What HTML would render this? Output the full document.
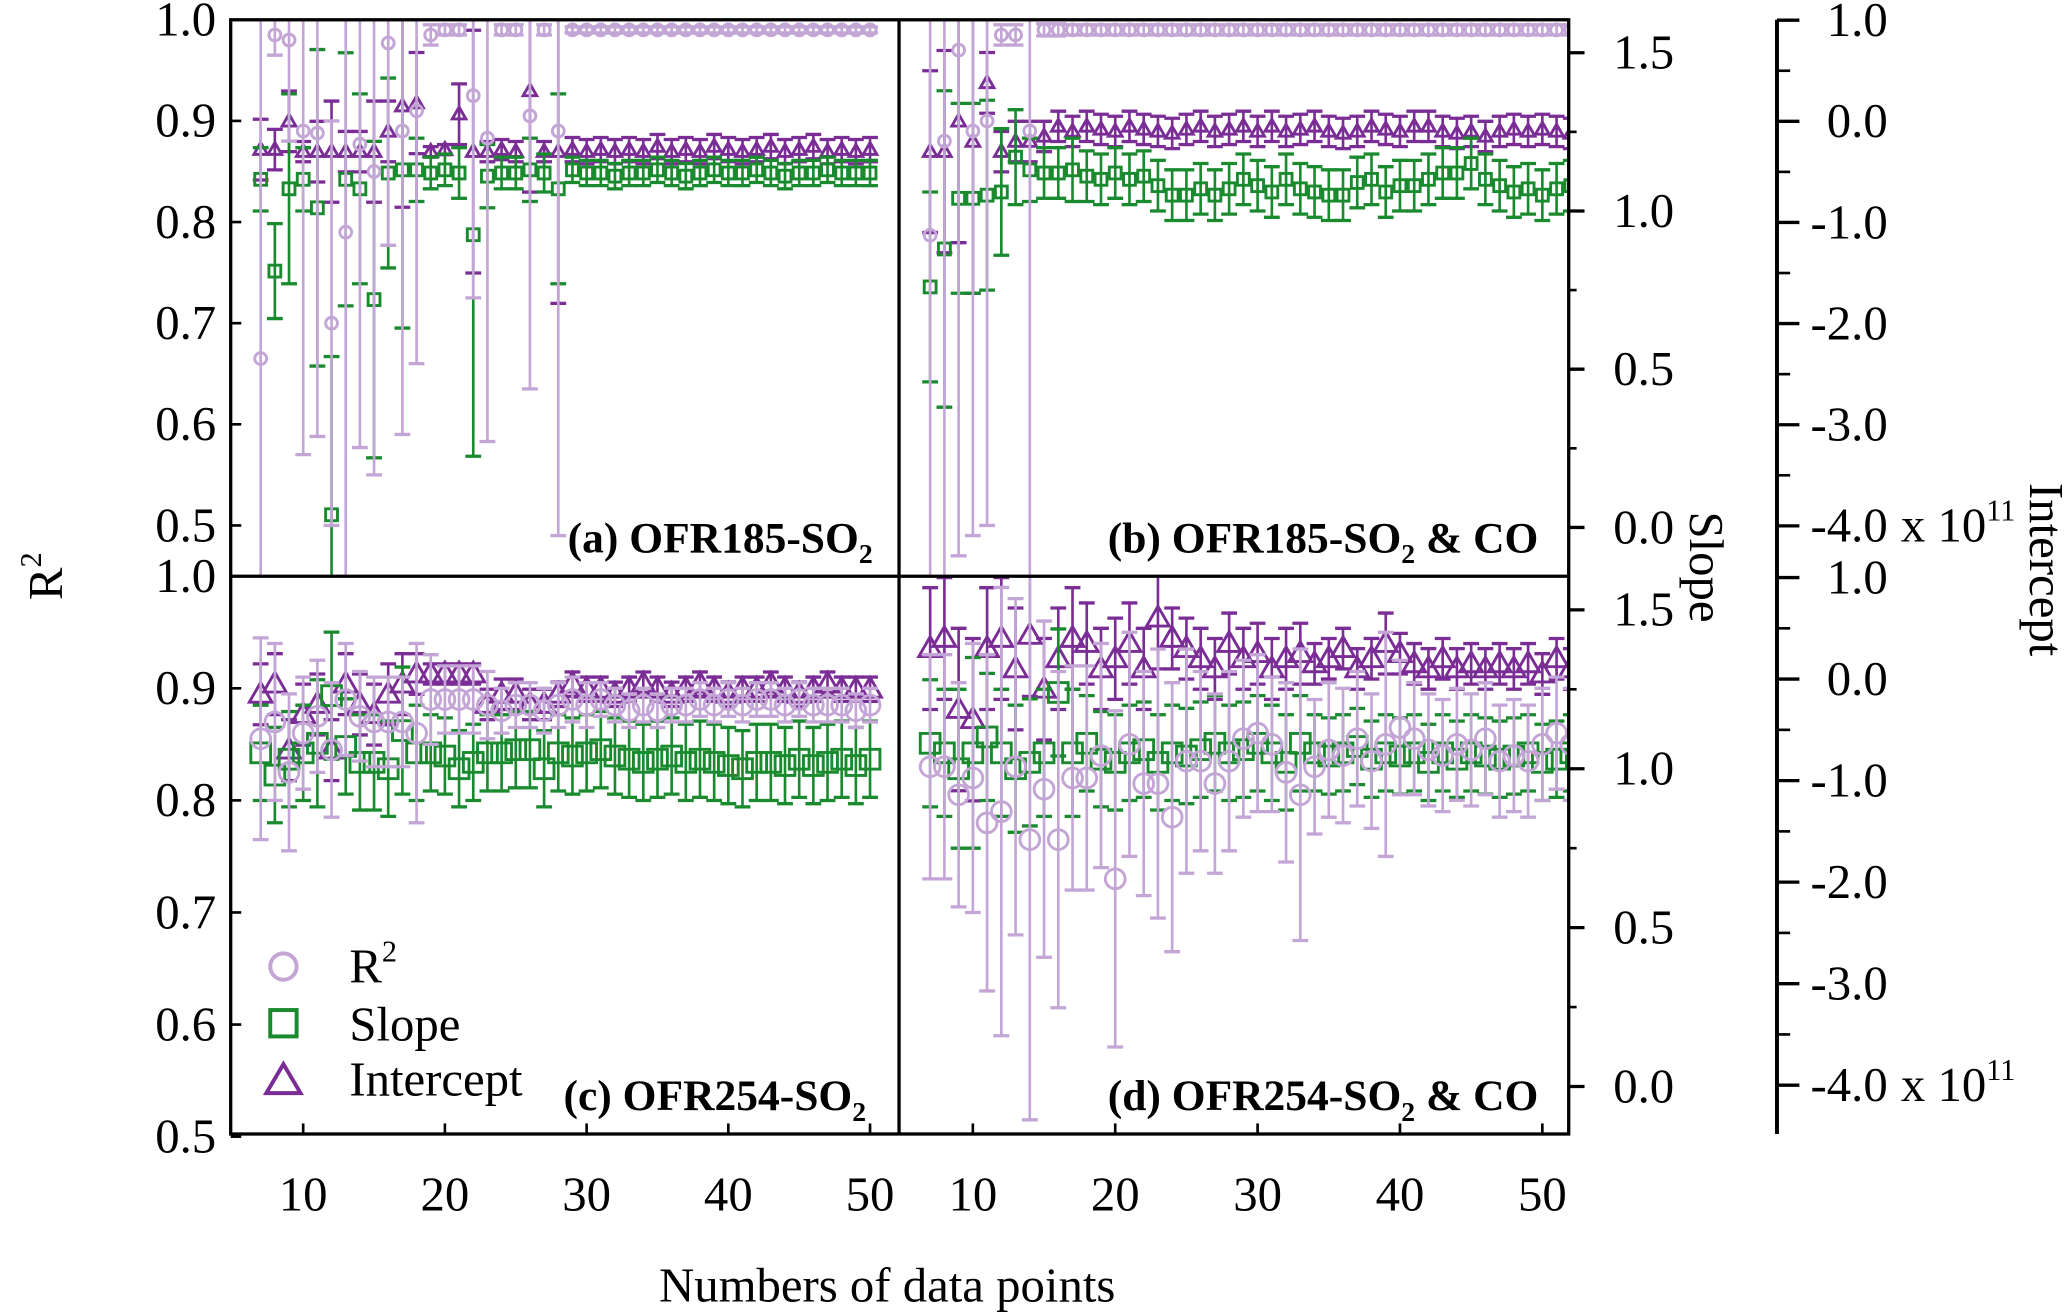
<!DOCTYPE html>
<html><head><meta charset="utf-8"><style>
html,body{margin:0;padding:0;background:#fff}
svg{display:block}
text{font-family:"Liberation Serif",serif;fill:#000}
</style></head><body>
<svg id="chart" width="2067" height="1312" viewBox="0 0 1568 995" preserveAspectRatio="none" xmlns="http://www.w3.org/2000/svg">
<defs>
<clipPath id="cA"><rect x="175" y="15" width="507" height="422"/></clipPath>
<clipPath id="cB"><rect x="682" y="15" width="508" height="422"/></clipPath>
<clipPath id="cC"><rect x="175" y="437" width="507" height="423"/></clipPath>
<clipPath id="cD"><rect x="682" y="437" width="508" height="423"/></clipPath>
</defs>
<g id="marks"></g>
<g id="axes"></g>
<text transform="translate(47,437) rotate(-90)" font-size="37" text-anchor="middle">R<tspan font-size="23" dy="-16">2</tspan></text>
<text transform="translate(1282,430) rotate(90)" font-size="37" text-anchor="middle">Slope</text>
<text transform="translate(1540,432) rotate(90)" font-size="37" text-anchor="middle">Intercept</text>
<text x="673" y="987" font-size="37" text-anchor="middle">Numbers of data points</text>
<g>
<circle cx="215" cy="733" r="10" fill="none" stroke="#c3a5d6" stroke-width="3"/>
<text x="265" y="745" font-size="37">R<tspan font-size="23" dy="-16">2</tspan></text>
<rect x="205" y="766" width="20" height="20" fill="none" stroke="#1a8a2e" stroke-width="3"/>
<text x="265" y="789" font-size="37">Slope</text>
<polygon points="215,807 228,829 202,829" fill="none" stroke="#7b2d96" stroke-width="3"/>
<text x="265" y="831" font-size="37">Intercept</text>
</g>
<text x="662" y="419" font-size="33" font-weight="bold" text-anchor="end">(a) OFR185-SO<tspan font-size="21" dy="8">2</tspan></text>
<text x="1167" y="419" font-size="33" font-weight="bold" text-anchor="end">(b) OFR185-SO<tspan font-size="21" dy="8">2</tspan><tspan dy="-8"> &amp; CO</tspan></text>
<text x="657" y="842" font-size="33" font-weight="bold" text-anchor="end">(c) OFR254-SO<tspan font-size="21" dy="8">2</tspan></text>
<text x="1167" y="842" font-size="33" font-weight="bold" text-anchor="end">(d) OFR254-SO<tspan font-size="21" dy="8">2</tspan><tspan dy="-8"> &amp; CO</tspan></text>
</svg>
<script>
const xA=[7,8,9,10,11,12,13,14,15,16,17,18,19,20,21,22,23,24,25,26,27,28,29,30,31,32,33,34,35,36,37,38,39,40,41,42,43,44,45,46,47,48,49,50];
const xB=[7,8,9,10,11,12,13,14,15,16,17,18,19,20,21,22,23,24,25,26,27,28,29,30,31,32,33,34,35,36,37,38,39,40,41,42,43,44,45,46,47,48,49,50,51,52];
const r2A=[0.665,0.985,0.98,0.89,0.888,0.70,0.79,0.877,0.85,0.977,0.89,0.91,0.985,0.99,0.99,0.925,0.883,0.99,0.99,0.905,0.99,0.89,0.99,0.99,0.99,0.99,0.99,0.99,0.99,0.99,0.99,0.99,0.99,0.99,0.99,0.99,0.99,0.99,0.99,0.99,0.99,0.99,0.99,0.99];
const r2ErrA=[0.6,0.02,0.1,0.32,0.3,0.2,0.4,0.3,0.3,0.2,0.3,0.25,0.01,0.005,0.005,0.2,0.3,0.005,0.005,0.27,0.005,0.4,0.003,0.003,0.003,0.003,0.003,0.003,0.003,0.003,0.003,0.003,0.003,0.003,0.003,0.003,0.003,0.003,0.003,0.003,0.003,0.003,0.003,0.003];
const slopeA=[1.10,0.81,1.07,1.10,1.01,0.04,1.10,1.07,0.72,1.12,1.13,1.13,1.12,1.13,1.12,0.925,1.11,1.12,1.12,1.13,1.12,1.07,1.13,1.12,1.12,1.11,1.12,1.12,1.13,1.12,1.11,1.12,1.13,1.12,1.12,1.13,1.12,1.11,1.12,1.12,1.13,1.12,1.12,1.12];
const slopeErrA=[0.1,0.15,0.3,0.1,0.5,0.5,0.4,0.3,0.5,0.3,0.5,0.1,0.05,0.05,0.08,0.7,0.1,0.05,0.05,0.1,0.06,0.3,0.04,0.04,0.04,0.04,0.04,0.04,0.04,0.04,0.04,0.04,0.04,0.04,0.04,0.04,0.04,0.04,0.04,0.04,0.04,0.04,0.04,0.04];
const intA=[-0.28,-0.28,0.0,-0.3,-0.3,-0.3,-0.3,-0.3,-0.3,-0.1,0.15,0.18,-0.3,-0.28,0.07,-0.3,-0.3,-0.28,-0.3,0.3,-0.3,-0.3,-0.28,-0.3,-0.28,-0.3,-0.28,-0.3,-0.25,-0.3,-0.28,-0.3,-0.25,-0.28,-0.3,-0.28,-0.25,-0.3,-0.28,-0.25,-0.3,-0.28,-0.3,-0.28];
const intErrA=[0.3,0.2,0.3,0.1,0.3,0.5,0.2,0.2,0.5,0.3,1,0.5,0.05,0.05,0.3,1.2,0.1,0.1,0.1,1,0.1,1.5,0.12,0.12,0.12,0.12,0.12,0.12,0.12,0.12,0.12,0.12,0.12,0.12,0.12,0.12,0.12,0.12,0.12,0.12,0.12,0.12,0.12,0.12];
const r2B=[0.787,0.88,0.97,0.89,0.90,0.985,0.985,0.89,0.99,0.99,0.99,0.99,0.99,0.99,0.99,0.99,0.99,0.99,0.99,0.99,0.99,0.99,0.99,0.99,0.99,0.99,0.99,0.99,0.99,0.99,0.99,0.99,0.99,0.99,0.99,0.99,0.99,0.99,0.99,0.99,0.99,0.99,0.99,0.99,0.99,0.99];
const r2ErrB=[0.4,0.6,0.5,0.4,0.4,0.01,0.01,0.5,0.006,0.006,0.005,0.005,0.005,0.005,0.005,0.005,0.005,0.005,0.005,0.005,0.005,0.005,0.005,0.005,0.005,0.005,0.005,0.005,0.005,0.005,0.005,0.005,0.005,0.005,0.005,0.005,0.005,0.005,0.005,0.005,0.005,0.005,0.005,0.005,0.005,0.005];
const slopeB=[0.76,0.88,1.04,1.04,1.05,1.06,1.17,1.13,1.12,1.12,1.13,1.11,1.10,1.12,1.10,1.11,1.08,1.05,1.05,1.07,1.05,1.07,1.10,1.08,1.06,1.10,1.07,1.06,1.05,1.05,1.09,1.10,1.06,1.08,1.08,1.10,1.12,1.12,1.15,1.10,1.08,1.06,1.07,1.05,1.07,1.08];
const slopeErrB=[0.3,0.5,0.3,0.3,0.3,0.2,0.15,0.1,0.08,0.08,0.1,0.08,0.08,0.08,0.08,0.08,0.08,0.08,0.08,0.08,0.08,0.08,0.08,0.08,0.08,0.08,0.08,0.08,0.08,0.08,0.08,0.08,0.08,0.08,0.08,0.08,0.08,0.08,0.08,0.08,0.08,0.08,0.08,0.08,0.08,0.08];
const intB=[-0.3,-0.3,0.0,-0.2,0.38,-0.3,-0.2,-0.2,-0.15,-0.05,-0.1,-0.05,-0.08,-0.1,-0.05,-0.08,-0.1,-0.12,-0.08,-0.05,-0.1,-0.08,-0.05,-0.1,-0.05,-0.1,-0.08,-0.05,-0.1,-0.12,-0.1,-0.05,-0.08,-0.1,-0.05,-0.05,-0.1,-0.12,-0.1,-0.15,-0.1,-0.08,-0.1,-0.08,-0.1,-0.12];
const intErrB=[0.8,1,1.2,1.5,0.3,0.2,0.2,0.2,0.15,0.15,0.15,0.15,0.15,0.15,0.15,0.15,0.15,0.15,0.15,0.15,0.15,0.15,0.15,0.15,0.15,0.15,0.15,0.15,0.15,0.15,0.15,0.15,0.15,0.15,0.15,0.15,0.15,0.15,0.15,0.15,0.15,0.15,0.15,0.15,0.15,0.15];
const r2C=[0.855,0.87,0.825,0.86,0.875,0.845,0.89,0.875,0.87,0.87,0.87,0.86,0.89,0.89,0.89,0.89,0.885,0.88,0.885,0.885,0.88,0.885,0.89,0.885,0.89,0.885,0.88,0.885,0.88,0.885,0.885,0.89,0.885,0.89,0.885,0.89,0.89,0.885,0.89,0.885,0.885,0.885,0.88,0.885];
const r2ErrC=[0.09,0.07,0.07,0.05,0.05,0.06,0.05,0.04,0.04,0.04,0.04,0.08,0.04,0.03,0.03,0.03,0.03,0.02,0.02,0.02,0.02,0.02,0.02,0.02,0.015,0.015,0.015,0.015,0.015,0.015,0.015,0.015,0.015,0.015,0.015,0.015,0.015,0.015,0.015,0.015,0.015,0.015,0.015,0.015];
const slopeC=[1.05,0.98,1.03,1.05,1.08,1.23,1.07,1.02,1.02,1.0,1.12,1.05,1.05,1.04,1.0,1.02,1.05,1.05,1.06,1.06,1.0,1.05,1.04,1.05,1.06,1.04,1.03,1.02,1.03,1.04,1.02,1.03,1.02,1.01,1.0,1.02,1.02,1.01,1.03,1.01,1.02,1.03,1.01,1.03];
const slopeErrC=[0.15,0.15,0.15,0.15,0.2,0.2,0.15,0.15,0.15,0.15,0.2,0.15,0.12,0.12,0.12,0.12,0.12,0.12,0.12,0.12,0.12,0.12,0.12,0.12,0.12,0.12,0.12,0.12,0.12,0.12,0.12,0.12,0.12,0.12,0.12,0.12,0.12,0.12,0.12,0.12,0.12,0.12,0.12,0.12];
const intC=[-0.15,-0.05,-0.7,-0.35,-0.25,-0.7,-0.05,-0.25,-0.35,-0.15,-0.05,0.05,0.05,0.05,0.05,0.05,-0.25,-0.15,-0.15,-0.25,-0.25,-0.15,-0.05,-0.1,-0.1,-0.15,-0.1,-0.05,-0.1,-0.15,-0.1,-0.05,-0.1,-0.15,-0.1,-0.1,-0.05,-0.1,-0.15,-0.1,-0.05,-0.1,-0.1,-0.1];
const intErrC=[0.3,0.3,0.3,0.3,0.3,0.3,0.3,0.3,0.3,0.3,0.3,0.2,0.1,0.1,0.1,0.1,0.15,0.15,0.15,0.15,0.15,0.12,0.12,0.12,0.12,0.12,0.12,0.12,0.12,0.12,0.12,0.12,0.12,0.12,0.12,0.12,0.12,0.12,0.12,0.12,0.12,0.12,0.12,0.12];
const r2D=[0.83,0.83,0.805,0.82,0.78,0.79,0.83,0.765,0.81,0.765,0.82,0.82,0.84,0.73,0.85,0.815,0.815,0.785,0.835,0.835,0.815,0.835,0.855,0.86,0.85,0.825,0.805,0.83,0.845,0.84,0.855,0.835,0.85,0.865,0.855,0.845,0.84,0.85,0.845,0.855,0.835,0.84,0.835,0.85,0.86,0.85];
const r2ErrD=[0.1,0.1,0.1,0.12,0.15,0.2,0.15,0.25,0.15,0.15,0.1,0.1,0.1,0.15,0.1,0.1,0.12,0.12,0.1,0.08,0.08,0.08,0.07,0.07,0.06,0.08,0.13,0.06,0.06,0.06,0.06,0.06,0.1,0.06,0.05,0.05,0.05,0.05,0.05,0.05,0.05,0.05,0.05,0.05,0.05,0.05];
const slopeD=[1.08,1.05,1.0,1.05,1.1,1.05,1.0,1.02,1.05,1.24,1.05,1.08,1.03,1.02,1.05,1.06,1.02,1.05,1.04,1.06,1.08,1.05,1.06,1.08,1.05,1.02,1.08,1.05,1.04,1.05,1.07,1.03,1.05,1.04,1.05,1.02,1.05,1.03,1.05,1.04,1.03,1.04,1.05,1.02,1.03,1.05];
const slopeErrD=[0.2,0.2,0.25,0.3,0.2,0.2,0.2,0.2,0.2,0.2,0.2,0.15,0.15,0.15,0.15,0.15,0.15,0.15,0.15,0.15,0.15,0.15,0.15,0.15,0.15,0.15,0.15,0.12,0.12,0.12,0.12,0.12,0.12,0.12,0.12,0.12,0.12,0.12,0.12,0.12,0.12,0.12,0.12,0.12,0.12,0.12];
const intD=[0.3,0.4,-0.3,-0.4,0.3,0.4,0.1,0.43,-0.1,0.2,0.4,0.35,0.1,0.2,0.35,0.1,0.6,0.4,0.3,0.2,0.1,0.35,0.2,0.25,0.1,0.2,0.25,0.15,0.2,0.3,0.1,0.2,0.35,0.25,0.15,0.1,0.2,0.1,0.15,0.1,0.15,0.1,0.15,0.05,0.2,0.1];
const intErrD=[0.6,0.6,0.8,0.8,0.6,0.6,0.6,0.6,0.5,0.5,0.5,0.4,0.4,0.4,0.4,0.4,0.5,0.3,0.3,0.3,0.3,0.3,0.3,0.3,0.3,0.3,0.3,0.2,0.2,0.2,0.2,0.2,0.3,0.2,0.2,0.2,0.2,0.2,0.2,0.2,0.2,0.2,0.2,0.2,0.2,0.2];

const NS='http://www.w3.org/2000/svg';
const C_R2='#c3a5d6',C_S='#1a8a2e',C_I='#7b2d96';
function mk(tag,attrs,parent){const e=document.createElementNS(NS,tag);for(const k in attrs)e.setAttribute(k,attrs[k]);parent.appendChild(e);return e;}
const xsL=v=>230+(v-10)*10.75, xsR=v=>738+(v-10)*10.8;
const rows=[
 {r2:v=>15+(1-v)*767, sl:v=>400-v*240, ic:v=>92-v*76.7, m:4.5},
 {r2:v=>437+(1-v)*850, sl:v=>824-v*241, ic:v=>515-v*77, m:7.5}
];
const panels=[
 {id:'a',clip:'cA',xs:xsL,row:rows[0],x:xA,r2:r2A,r2e:r2ErrA,s:slopeA,se:slopeErrA,i:intA,ie:intErrA},
 {id:'b',clip:'cB',xs:xsR,row:rows[0],x:xB,r2:r2B,r2e:r2ErrB,s:slopeB,se:slopeErrB,i:intB,ie:intErrB},
 {id:'c',clip:'cC',xs:xsL,row:rows[1],x:xA,r2:r2C,r2e:r2ErrC,s:slopeC,se:slopeErrC,i:intC,ie:intErrC},
 {id:'d',clip:'cD',xs:xsR,row:rows[1],x:xB,r2:r2D,r2e:r2ErrD,s:slopeD,se:slopeErrD,i:intD,ie:intErrD}
];
const marks=document.getElementById('marks');
function errbar(g,x,y1,y2,col){
 mk('line',{x1:x,x2:x,y1:y1,y2:y2,stroke:col,'stroke-width':2},g);
 mk('line',{x1:x-6,x2:x+6,y1:y1,y2:y1,stroke:col,'stroke-width':2.5},g);
 mk('line',{x1:x-6,x2:x+6,y1:y2,y2:y2,stroke:col,'stroke-width':2.5},g);
}
panels.forEach(p=>{
 const g=mk('g',{'clip-path':'url(#'+p.clip+')'},marks);
 
 
 const m=p.row.m;
 p.x.forEach((xv,k)=>{ const X=p.xs(xv);
  errbar(g,X,p.row.ic(p.i[k]+p.ie[k]),p.row.ic(p.i[k]-p.ie[k]),C_I);
  const Y=p.row.ic(p.i[k]);
  const t=mk('polygon',{points:`${X},${Y-m*1.2} ${X+m*1.15},${Y+m*0.8} ${X-m*1.15},${Y+m*0.8}`,fill:'none',stroke:C_I,'stroke-width':2.2},g);
  
  
 });
 p.x.forEach((xv,k)=>{ const X=p.xs(xv);
  errbar(g,X,p.row.sl(p.s[k]+p.se[k]),p.row.sl(p.s[k]-p.se[k]),C_S);
  const Y=p.row.sl(p.s[k]);
  const r=mk('rect',{x:X-m,y:Y-m,width:2*m,height:2*m,fill:'none',stroke:C_S,'stroke-width':2.2},g);
  
  
 });
 p.x.forEach((xv,k)=>{ const X=p.xs(xv);
  errbar(g,X,p.row.r2(Math.min(p.r2[k]+p.r2e[k],1.0)),p.row.r2(p.r2[k]-p.r2e[k]),C_R2);
  const c=mk('circle',{cx:X,cy:p.row.r2(p.r2[k]),r:m,fill:'none',stroke:C_R2,'stroke-width':2.2},g);
  
  
 });
});
const ax=document.getElementById('axes');
const K='#000';
const FS=37;
mk('rect',{x:175,y:15,width:1015,height:845,fill:'none',stroke:K,'stroke-width':2.5},ax);
mk('line',{x1:682,x2:682,y1:15,y2:860,stroke:K,'stroke-width':2.5},ax);
mk('line',{x1:175,x2:1190,y1:437,y2:437,stroke:K,'stroke-width':2.5},ax);
const r2Ticks=[1.0,0.9,0.8,0.7,0.6,0.5];
rows.forEach((row,ri)=>{
 r2Ticks.forEach(v=>{const y=row.r2(v);
  mk('line',{x1:175,x2:183,y1:y,y2:y,stroke:K,'stroke-width':2},ax);
  const t=mk('text',{x:164,y:y+12,'font-size':FS,'text-anchor':'end'},ax);t.textContent=v.toFixed(1);
  
  
 });
 [1.5,1.0,0.5,0.0].forEach(v=>{const y=row.sl(v);
  mk('line',{x1:1190,x2:1202,y1:y,y2:y,stroke:K,'stroke-width':2.5},ax);
  const t=mk('text',{x:1270,y:y+12,'font-size':FS,'text-anchor':'end'},ax);t.textContent=v.toFixed(1);
  
  
 });
 [0.25,0.75,1.25].forEach(v=>{const y=row.sl(v);mk('line',{x1:1190,x2:1196,y1:y,y2:y,stroke:K,'stroke-width':2},ax);});
 [1,0,-1,-2,-3,-4].forEach(v=>{const y=row.ic(v);
  mk('line',{x1:1348,x2:1365,y1:y,y2:y,stroke:K,'stroke-width':2.5},ax);
  const t=mk('text',{x:1432,y:y+12,'font-size':FS,'text-anchor':'end'},ax);t.textContent=(v===0?'0.0':v.toFixed(1));
  
  
 });
 [0.5,-0.5,-1.5,-2.5,-3.5].forEach(v=>{const y=row.ic(v);mk('line',{x1:1348,x2:1358,y1:y,y2:y,stroke:K,'stroke-width':2},ax);});
 const e=mk('text',{x:1442,y:row.ic(-4)+12,'font-size':FS},ax);e.innerHTML='x 10<tspan font-size="23" dy="-16">11</tspan>';
});
mk('line',{x1:1348,x2:1348,y1:15,y2:860,stroke:K,'stroke-width':3},ax);
[10,20,30,40,50].forEach(v=>{
 [xsL,xsR].forEach(f=>{const x=f(v);
  mk('line',{x1:x,x2:x,y1:860,y2:852,stroke:K,'stroke-width':2},ax);
  const t=mk('text',{x:x,y:918,'font-size':FS,'text-anchor':'middle'},ax);t.textContent=v;
  
  
 });
});
</script>
</body></html>
